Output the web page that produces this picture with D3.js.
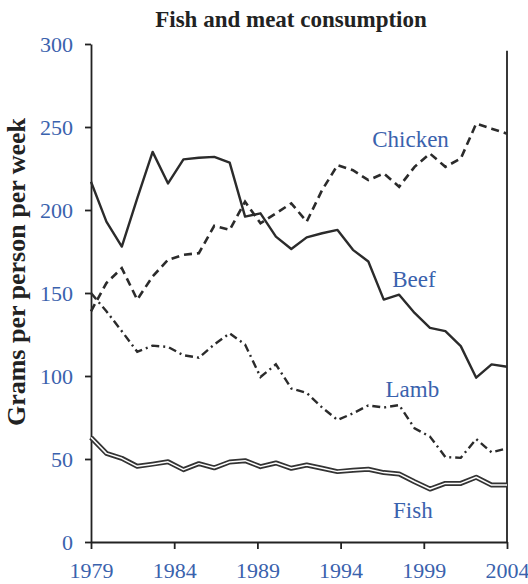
<!DOCTYPE html>
<meta charset="utf-8">
<head>
	<title>Fish and meat consumption</title>
</head>

<style>
body{
	margin: 0;
	background: #fff;
}

text{
	font-family: "Liberation Serif", "Times New Roman", serif;
}

.title{
	font-size: 23px;
	font-weight: bold;
	fill: #222;
}

.y_title{
	font-size: 26px;
	font-weight: bold;
	fill: #222;
}

.axis text{
	font-size: 22px;
	fill: #3a62ad;
}

.axis path, .axis line, .frame{
	stroke: #222;
	stroke-width: 1.8;
}

.series_label{
	font-size: 23px;
	fill: #3a62ad;
}
</style>

<body>
	<svg class="chart" width="528" height="584"></svg>

<script src="https://cdnjs.cloudflare.com/ajax/libs/d3/7.8.5/d3.min.js"></script>
<script>

// tick labels
var tick_years = [1979, 1984, 1989, 1994, 1999, 2004];
var tick_values = [0, 50, 100, 150, 200, 250, 300];

// 28 readings per series, evenly spread from 1979 to 2004
var beef = [217, 193, 178, 207, 235, 216, 230.5, 231.5, 232, 228.5, 196, 198, 184, 176.5,
	183.5, 186, 188, 176, 169, 146, 149, 138, 129, 127, 118, 99, 107, 105.6];
var chicken = [139, 156, 165, 146, 160, 170, 173, 174, 190.5, 188, 205, 192, 198, 204,
	193, 212, 227, 224, 218, 222, 214, 226, 234, 226, 231, 252, 249, 246];
var lamb = [150, 139, 127, 114.6, 118.3, 117.5, 112.5, 111, 119, 125.7, 119, 99.4, 107, 92.5,
	89.8, 81, 73.5, 77.5, 82.3, 81, 82.5, 68.5, 63.5, 51.2, 50.7, 62, 54, 56.4];
var fish = [63, 53.4, 50.4, 45.6, 46.9, 48.3, 43.6, 47.2, 44.7, 48.2, 49, 45.4, 47.6, 44.4,
	46.4, 44.4, 42.4, 43.2, 43.8, 41.8, 41, 36.3, 31.9, 35.3, 35.3, 39, 34.3, 34.3];

var svg = d3.select('.chart');

var x = d3.scaleLinear().domain([1979, 2004]).range([91, 507]);
var y = d3.scaleLinear().domain([0, 300]).range([542, 44]);
var px = d3.scaleLinear().domain([0, beef.length - 1]).range(x.range());

// axes
svg.append('g')
	.attr('class', 'axis')
	.attr('transform', 'translate(' + x(1979) + ',0)')
	.call(d3.axisLeft(y).tickValues(tick_values).tickSize(6).tickSizeOuter(0).tickPadding(12).tickFormat(d3.format('d')));

svg.append('g')
	.attr('class', 'axis')
	.attr('transform', 'translate(0,' + y(0) + ')')
	.call(d3.axisBottom(x).tickValues(tick_years).tickSize(7).tickSizeOuter(0).tickPadding(13).tickFormat(d3.format('d')));

svg.append('line')
	.attr('class', 'frame')
	.attr('x1', x(2004)).attr('x2', x(2004))
	.attr('y1', y(296)).attr('y2', y(0));

var line = d3.line()
	.x(function(d, i){ return px(i); })
	.y(function(d){ return y(d); });

// fish: double line
svg.append('path').datum(fish)
	.attr('d', line)
	.attr('fill', 'none').attr('stroke', '#333').attr('stroke-width', 5)
	.attr('stroke-linejoin', 'round');
svg.append('path').datum(fish)
	.attr('d', line)
	.attr('fill', 'none').attr('stroke', '#fff').attr('stroke-width', 1.5)
	.attr('stroke-linejoin', 'round');

svg.append('path').datum(lamb)
	.attr('d', line)
	.attr('fill', 'none').attr('stroke', '#2b2b2b').attr('stroke-width', 2.4)
	.attr('stroke-dasharray', '8,4,2,4');

svg.append('path').datum(chicken)
	.attr('d', line)
	.attr('fill', 'none').attr('stroke', '#2b2b2b').attr('stroke-width', 2.6)
	.attr('stroke-dasharray', '8,5');

svg.append('path').datum(beef)
	.attr('d', line)
	.attr('fill', 'none').attr('stroke', '#2b2b2b').attr('stroke-width', 2.4)
	.attr('stroke-linejoin', 'round');

// series labels
var labels = [
	{name: 'Chicken', year: 1995.9, value: 238},
	{name: 'Beef', year: 1997.1, value: 153.6},
	{name: 'Lamb', year: 1996.7, value: 87.3},
	{name: 'Fish', year: 1997.15, value: 14.5}
];

svg.selectAll('.series_label')
	.data(labels)
	.enter()
	.append('text')
	.attr('class', 'series_label')
	.attr('x', function(d){ return x(d.year); })
	.attr('y', function(d){ return y(d.value); })
	.text(function(d){ return d.name; });

// titles
svg.append('text')
	.attr('class', 'title')
	.attr('x', 291).attr('y', 27)
	.attr('text-anchor', 'middle')
	.text('Fish and meat consumption');

svg.append('text')
	.attr('class', 'y_title')
	.attr('transform', 'translate(25,272) rotate(-90)')
	.attr('text-anchor', 'middle')
	.text('Grams per person per week');

</script>
</body>
</html>
